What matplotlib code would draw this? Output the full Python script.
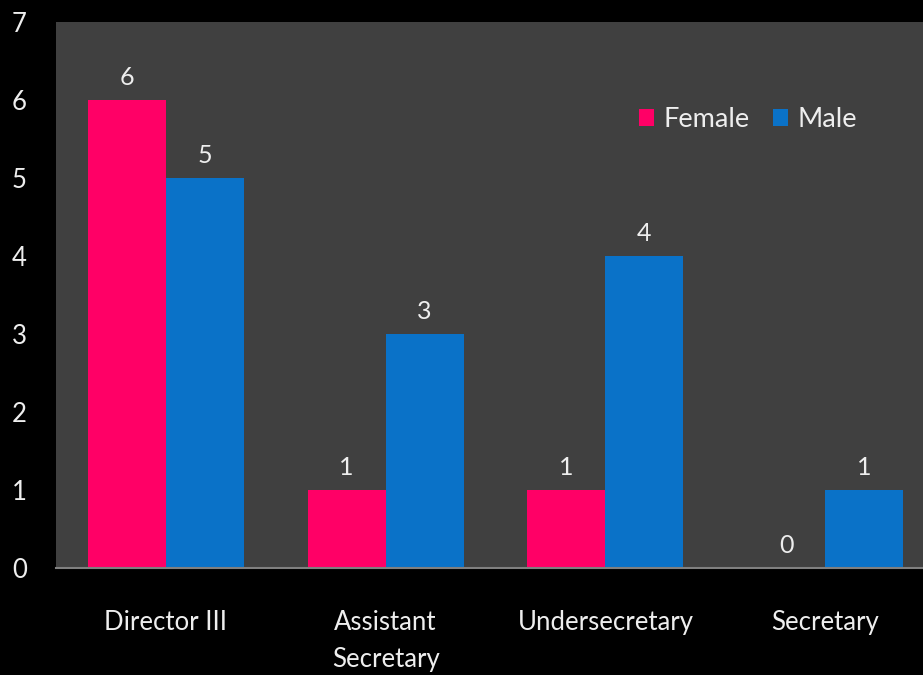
import matplotlib.pyplot as plt
import numpy as np

categories = ["Director III", "Assistant\nSecretary", "Undersecretary", "Secretary"]
female = [6, 1, 1, 0]
male = [5, 3, 4, 1]

plt.rcParams['font.family'] = ['Lato', 'DejaVu Sans']

fig = plt.figure(figsize=(9.23, 6.75), dpi=100, facecolor='black')
ax = fig.add_axes([0.0607, 0.1585, 0.9523, 0.8089])
ax.set_facecolor('#404040')

x = np.arange(len(categories))
w = 0.355
b1 = ax.bar(x - w / 2, female, w, color='#FF0066', label='Female')
b2 = ax.bar(x + w / 2, male, w, color='#0A72C8', label='Male')

ax.bar_label(b1, padding=8, color='#EEEEEE', fontsize=18)
ax.bar_label(b2, padding=8, color='#EEEEEE', fontsize=18)

ax.set_xlim(-0.5, 3.5)
ax.set_ylim(0, 7)
ax.set_yticks(range(8))
ax.set_xticks(x)
ax.set_xticklabels(categories, linespacing=1.6)
ax.tick_params(axis='y', colors='#EEEEEE', labelsize=18.5, length=0, pad=21)
ax.tick_params(axis='x', colors='#EEEEEE', labelsize=18.5, length=0, pad=30)

for s in ['top', 'right', 'left']:
    ax.spines[s].set_visible(False)
ax.spines['bottom'].set_color('#808080')
ax.spines['bottom'].set_linewidth(1.5)

leg = ax.legend(loc='upper left', bbox_to_anchor=(0.636, 0.889), ncol=2, frameon=False,
                fontsize=19.5, handlelength=0.55, handleheight=0.55, handletextpad=0.35,
                columnspacing=0.85)
for t in leg.get_texts():
    t.set_color('#EEEEEE')

plt.savefig("out.png", dpi=100, facecolor='black')
